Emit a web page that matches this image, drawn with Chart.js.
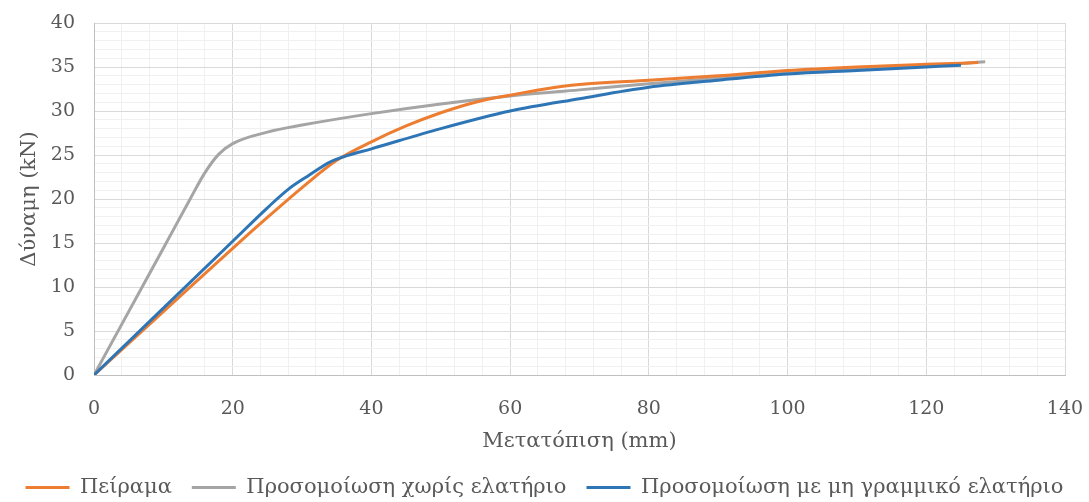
<!DOCTYPE html>
<html lang="el">
<head>
<meta charset="UTF-8" />
<title>Δύναμη - Μετατόπιση</title>
<script src="https://cdn.jsdelivr.net/npm/chart.js@4/dist/chart.umd.min.js"></script>
<style>
  body { margin: 0; background: #fff; }
  #wrap { width: 1089px; height: 502px; }
</style>
</head>
<body>
<div id="wrap"><canvas id="forceChart" width="1089" height="502"></canvas></div>
<script>
// Πείραμα
const testX = [0, 10, 20, 25, 30, 35, 40, 45, 50, 55, 60, 65, 70, 80, 90, 100, 110, 120, 127.5];
const testY = [0, 7.2, 14.4, 17.9, 21.3, 24.4, 26.5, 28.3, 29.8, 31, 31.8, 32.5, 33, 33.5, 34, 34.6, 35, 35.3, 35.5];

// Προσομοίωση χωρίς ελατήριο
const noSpringX = [0, 5, 10, 14, 16, 18, 20, 25, 30, 40, 50, 60, 70, 80, 100, 120, 128.5];
const noSpringY = [0, 7.2, 14.4, 20.2, 23, 25.1, 26.3, 27.6, 28.4, 29.7, 30.8, 31.7, 32.4, 33.1, 34.3, 35.1, 35.6];

// Προσομοίωση με μη γραμμικό ελατήριο
const springX = [0, 10, 20, 25, 28, 31, 34, 36, 40, 50, 60, 70, 80, 90, 100, 110, 120, 125];
const springY = [0, 7.6, 15.2, 19, 21.1, 22.7, 24.2, 24.8, 25.7, 28, 30, 31.4, 32.7, 33.5, 34.2, 34.6, 35, 35.2];

const seriesNames = ['Πείραμα', 'Προσομοίωση χωρίς ελατήριο', 'Προσομοίωση με μη γραμμικό ελατήριο'];
const seriesColors = ['#ED7D31', '#A5A5A5', '#2E75B6'];

const xTicks = { min: 0, max: 140, major: 20, minor: 4 };
const yTicks = { min: 0, max: 40, major: 5, minor: 1 };

function toPoints(xs, ys) {
  return xs.map((x, i) => ({ x: x, y: ys[i] }));
}

const textColor = '#595959';
const fontFamily = '"DejaVu Serif", "Liberation Serif", serif';

function gridColor(major) {
  return (ctx) => (ctx.tick && ctx.tick.value % major === 0) ? '#d9d9d9' : '#f0f0f0';
}

const data = {
  datasets: [
    toPoints(testX, testY),
    toPoints(noSpringX, noSpringY),
    toPoints(springX, springY)
  ].map((pts, i) => ({
    label: seriesNames[i],
    data: pts,
    borderColor: seriesColors[i],
    backgroundColor: seriesColors[i],
    borderWidth: 3,
    pointRadius: 0,
    cubicInterpolationMode: 'monotone',
    fill: false
  }))
};

// blue on top, then orange, gray underneath
data.datasets[0].order = 1;
data.datasets[1].order = 2;
data.datasets[2].order = 0;

// invisible tick marks push the labels away from the plot
// (ticks.padding would also widen the plot margins)
const hiddenTick = 'rgba(0,0,0,0)';

new Chart(document.getElementById('forceChart'), {
  type: 'line',
  data: data,
  options: {
    responsive: false,
    animation: false,
    layout: { padding: { left: 0, top: 23, right: 0, bottom: -6 } },
    plugins: {
      tooltip: { enabled: false },
      legend: {
        position: 'bottom',
        labels: {
          usePointStyle: true,
          pointStyle: 'line',
          pointStyleWidth: 44,
          padding: 20,
          color: textColor,
          font: { family: fontFamily, size: 21 },
          sort: (a, b) => a.datasetIndex - b.datasetIndex
        }
      }
    },
    scales: {
      x: {
        type: 'linear',
        min: xTicks.min,
        max: xTicks.max,
        afterFit: (scale) => { scale.height = 82; },
        border: { color: '#bfbfbf' },
        grid: { color: gridColor(xTicks.major), drawTicks: true, tickLength: 20, tickColor: hiddenTick },
        ticks: {
          stepSize: xTicks.minor,
          autoSkip: false,
          maxRotation: 0,
          padding: 3,
          color: textColor,
          font: { family: fontFamily, size: 19 },
          callback: (v) => v % xTicks.major === 0 ? v : ''
        },
        title: {
          display: true,
          text: 'Μετατόπιση (mm)',
          color: textColor,
          padding: { top: 0, bottom: 3 },
          font: { family: fontFamily, size: 21 }
        }
      },
      y: {
        min: yTicks.min,
        max: yTicks.max,
        afterFit: (scale) => { scale.width = 94; },
        border: { color: '#bfbfbf' },
        grid: { color: gridColor(yTicks.major), drawTicks: true, tickLength: 16, tickColor: hiddenTick },
        ticks: {
          stepSize: yTicks.minor,
          autoSkip: false,
          padding: 3,
          color: textColor,
          font: { family: fontFamily, size: 19 },
          callback: (v) => v % yTicks.major === 0 ? v : ''
        },
        title: {
          display: true,
          text: 'Δύναμη (kN)',
          color: textColor,
          padding: { top: 17, bottom: 0 },
          font: { family: fontFamily, size: 21 }
        }
      },
      // empty strip on the right of the plot
      yRight: {
        position: 'right',
        display: true,
        afterFit: (scale) => { scale.width = 24; },
        grid: { display: false },
        border: { display: false },
        ticks: { display: false }
      }
    }
  }
});
</script>
</body>
</html>
